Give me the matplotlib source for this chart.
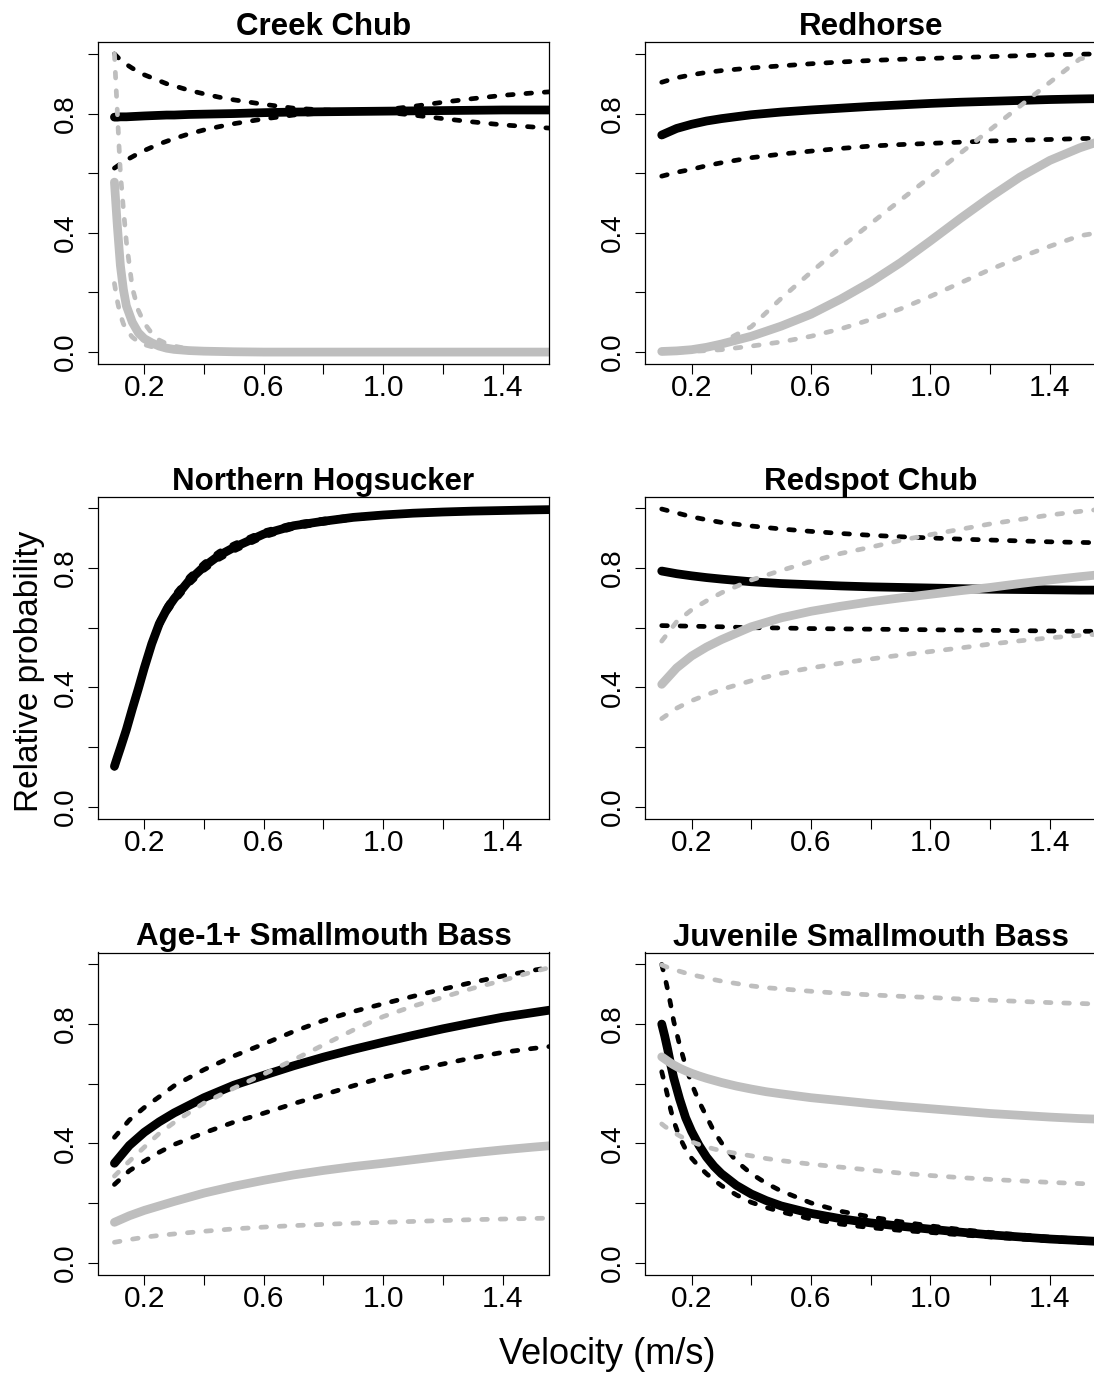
import matplotlib
matplotlib.use('Agg')
import matplotlib.pyplot as plt

plt.rcParams['font.family'] = ['Liberation Sans', 'DejaVu Sans']

# velocity grids (m/s); the steep panels use a finer start.
# the curves run a little past 1.5 and are clipped by the box, as in the original
vel_fine = [0.10, 0.11, 0.12, 0.13, 0.14, 0.16, 0.18, 0.20, 0.225, 0.25, 0.275, 0.30, 0.35,
            0.40, 0.45, 0.50, 0.60, 0.70, 0.80, 0.90, 1.00, 1.10, 1.20, 1.30, 1.40, 1.50, 1.56]
vel = [0.10, 0.15, 0.20, 0.25, 0.30, 0.40, 0.50, 0.60, 0.70, 0.80, 0.90,
       1.00, 1.10, 1.20, 1.30, 1.40, 1.50, 1.56]

# Creek Chub (vel_fine)
cc_mean = [0.788, 0.788, 0.789, 0.789, 0.789, 0.790, 0.791, 0.792, 0.793, 0.794, 0.795, 0.795, 0.797,
           0.798, 0.799, 0.800, 0.803, 0.805, 0.806, 0.807, 0.808, 0.809, 0.810, 0.811, 0.812, 0.812, 0.812]
cc_hi = [1.0, 0.99, 0.98, 0.972, 0.965, 0.952, 0.94, 0.93, 0.92, 0.91, 0.90, 0.893, 0.878,
         0.866, 0.855, 0.846, 0.831, 0.818, 0.812, 0.810, 0.812, 0.824, 0.838, 0.850, 0.861, 0.869, 0.873]
cc_lo = [0.617, 0.624, 0.631, 0.638, 0.644, 0.655, 0.666, 0.676, 0.687, 0.698, 0.707, 0.716, 0.732,
         0.745, 0.756, 0.766, 0.782, 0.795, 0.802, 0.806, 0.805, 0.795, 0.783, 0.772, 0.762, 0.755, 0.751]
cc_g_mean = [0.57, 0.42, 0.29, 0.21, 0.155, 0.10, 0.065, 0.045, 0.031, 0.02, 0.013, 0.009, 0.005,
             0.003, 0.002, 0.001, 0.0, 0.0, 0.0, 0.0, 0.0, 0.0, 0.0, 0.0, 0.0, 0.0, 0.0]
cc_g_hi = [1.0, 0.80, 0.60, 0.48, 0.37, 0.215, 0.14, 0.097, 0.063, 0.04, 0.028, 0.02, 0.01,
           0.006, 0.004, 0.002, 0.001, 0.0, 0.0, 0.0, 0.0, 0.0, 0.0, 0.0, 0.0, 0.0, 0.0]
cc_g_lo = [0.23, 0.17, 0.125, 0.095, 0.075, 0.05, 0.035, 0.025, 0.018, 0.013, 0.009, 0.007, 0.004,
           0.002, 0.001, 0.001, 0.0, 0.0, 0.0, 0.0, 0.0, 0.0, 0.0, 0.0, 0.0, 0.0, 0.0]

# Redhorse (vel)
rh_mean = [0.728, 0.75, 0.764, 0.775, 0.783, 0.796, 0.805, 0.812, 0.818, 0.824, 0.829,
           0.834, 0.838, 0.841, 0.844, 0.847, 0.849, 0.85]
rh_hi = [0.905, 0.92, 0.93, 0.938, 0.944, 0.953, 0.96, 0.967, 0.973, 0.978, 0.982,
         0.985, 0.988, 0.991, 0.994, 0.997, 0.999, 1.0]
rh_lo = [0.59, 0.603, 0.613, 0.625, 0.635, 0.652, 0.664, 0.674, 0.683, 0.691, 0.696,
         0.70, 0.704, 0.708, 0.711, 0.713, 0.716, 0.717]
rh_g_mean = [0.002, 0.004, 0.008, 0.016, 0.027, 0.053, 0.087, 0.127, 0.178, 0.235, 0.30,
             0.373, 0.448, 0.52, 0.587, 0.643, 0.685, 0.705]
rh_g_hi = [0.002, 0.004, 0.008, 0.016, 0.032, 0.085, 0.18, 0.268, 0.352, 0.431, 0.51,
           0.588, 0.667, 0.746, 0.825, 0.905, 0.983, 0.995]
rh_g_lo = [0.0, 0.001, 0.002, 0.005, 0.008, 0.02, 0.034, 0.053, 0.078, 0.109, 0.145,
           0.187, 0.232, 0.277, 0.318, 0.355, 0.39, 0.40]

# Northern Hogsucker (vel_fine)
hs_mean = [0.135, 0.166, 0.196, 0.227, 0.258, 0.328, 0.395, 0.465, 0.546, 0.613, 0.661, 0.697, 0.758,
           0.805, 0.842, 0.869, 0.914, 0.942, 0.957, 0.970, 0.978, 0.984, 0.988, 0.991, 0.993, 0.995, 0.996]
hs_hi = [0.141, 0.173, 0.203, 0.234, 0.265, 0.336, 0.404, 0.475, 0.557, 0.625, 0.674, 0.711, 0.772,
         0.818, 0.855, 0.881, 0.924, 0.95, 0.964, 0.975, 0.982, 0.987, 0.991, 0.993, 0.995, 0.996, 0.997]
hs_lo = [0.129, 0.159, 0.189, 0.22, 0.251, 0.32, 0.386, 0.455, 0.535, 0.601, 0.648, 0.683, 0.744,
         0.792, 0.829, 0.857, 0.904, 0.934, 0.95, 0.965, 0.974, 0.981, 0.985, 0.989, 0.991, 0.994, 0.995]

# Redspot Chub (vel)
rs_mean = [0.79, 0.781, 0.774, 0.768, 0.763, 0.754, 0.748, 0.744, 0.74, 0.737, 0.735,
           0.733, 0.731, 0.729, 0.728, 0.727, 0.726, 0.726]
rs_hi = [0.998, 0.985, 0.972, 0.962, 0.953, 0.941, 0.931, 0.923, 0.916, 0.91, 0.905,
         0.901, 0.897, 0.894, 0.891, 0.888, 0.886, 0.885]
rs_lo = [0.607, 0.606, 0.605, 0.604, 0.603, 0.60, 0.599, 0.597, 0.596, 0.595, 0.594,
         0.593, 0.592, 0.591, 0.59, 0.589, 0.588, 0.588]
rs_g_mean = [0.41, 0.465, 0.505, 0.535, 0.56, 0.603, 0.633, 0.655, 0.672, 0.687, 0.70,
             0.712, 0.724, 0.735, 0.748, 0.76, 0.771, 0.777]
rs_g_hi = [0.555, 0.62, 0.66, 0.69, 0.717, 0.76, 0.792, 0.822, 0.849, 0.87, 0.893,
           0.912, 0.93, 0.948, 0.963, 0.978, 0.99, 0.996]
rs_g_lo = [0.295, 0.33, 0.355, 0.375, 0.393, 0.422, 0.447, 0.465, 0.481, 0.495, 0.508,
           0.52, 0.532, 0.545, 0.556, 0.566, 0.574, 0.578]

# Age-1+ Smallmouth Bass (vel)
ag_mean = [0.333, 0.393, 0.437, 0.472, 0.502, 0.553, 0.595, 0.628, 0.66, 0.689, 0.715,
           0.739, 0.762, 0.784, 0.804, 0.823, 0.838, 0.847]
ag_hi = [0.42, 0.478, 0.52, 0.556, 0.593, 0.647, 0.693, 0.733, 0.775, 0.812, 0.842,
         0.868, 0.893, 0.917, 0.94, 0.961, 0.98, 0.99]
ag_lo = [0.262, 0.308, 0.34, 0.37, 0.396, 0.435, 0.471, 0.501, 0.533, 0.563, 0.593,
         0.621, 0.645, 0.666, 0.687, 0.705, 0.718, 0.725]
ag_g_mean = [0.135, 0.157, 0.175, 0.19, 0.205, 0.233, 0.256, 0.276, 0.294, 0.309, 0.322,
             0.333, 0.345, 0.357, 0.368, 0.378, 0.387, 0.392]
ag_g_hi = [0.29, 0.34, 0.387, 0.433, 0.47, 0.535, 0.585, 0.632, 0.68, 0.73, 0.78,
           0.825, 0.86, 0.89, 0.92, 0.946, 0.975, 0.99]
ag_g_lo = [0.068, 0.077, 0.085, 0.091, 0.096, 0.105, 0.113, 0.119, 0.124, 0.128, 0.132,
           0.135, 0.138, 0.141, 0.144, 0.146, 0.148, 0.149]

# Juvenile Smallmouth Bass (vel_fine)
js_mean = [0.80, 0.76, 0.715, 0.665, 0.62, 0.548, 0.486, 0.44, 0.393, 0.354, 0.323, 0.298, 0.259,
           0.23, 0.208, 0.19, 0.165, 0.147, 0.133, 0.122, 0.112, 0.102, 0.093, 0.086, 0.079, 0.074, 0.071]
js_hi = [1.0, 0.96, 0.915, 0.865, 0.81, 0.73, 0.66, 0.60, 0.54, 0.49, 0.44, 0.402, 0.34,
         0.298, 0.266, 0.24, 0.2, 0.172, 0.153, 0.137, 0.123, 0.111, 0.101, 0.093, 0.085, 0.079, 0.076]
js_lo = [0.64, 0.6, 0.558, 0.513, 0.475, 0.42, 0.38, 0.35, 0.322, 0.298, 0.277, 0.258, 0.227,
         0.202, 0.185, 0.17, 0.146, 0.129, 0.117, 0.108, 0.101, 0.093, 0.086, 0.079, 0.073, 0.068, 0.065]
js_g_mean = [0.69, 0.683, 0.676, 0.669, 0.663, 0.652, 0.643, 0.635, 0.626, 0.618, 0.611, 0.604, 0.592,
             0.582, 0.573, 0.566, 0.553, 0.543, 0.533, 0.524, 0.516, 0.508, 0.50, 0.494, 0.488, 0.483, 0.481]
js_g_hi = [0.998, 0.994, 0.99, 0.986, 0.983, 0.977, 0.971, 0.966, 0.96, 0.955, 0.949, 0.944, 0.936,
           0.928, 0.922, 0.918, 0.91, 0.903, 0.898, 0.893, 0.889, 0.884, 0.88, 0.876, 0.872, 0.869, 0.867]
js_g_lo = [0.465, 0.457, 0.45, 0.443, 0.437, 0.425, 0.414, 0.405, 0.396, 0.388, 0.381, 0.375, 0.366,
           0.358, 0.349, 0.342, 0.33, 0.32, 0.31, 0.30, 0.292, 0.285, 0.279, 0.274, 0.269, 0.265, 0.263]

GRAY = '#bebebe'
W, H = 1094, 1378
fig = plt.figure(figsize=(W / 100, H / 100), dpi=100)

# panel boxes in pixels: left edge of column, top edge of row
col_left = [97.7, 645.0]
row_top = [42.0, 496.5, 952.5]
box_w, box_h = 451.5, 322.0

panels = [
    ('Creek Chub', 0, 0, vel_fine, (cc_mean, cc_lo, cc_hi), (cc_g_mean, cc_g_lo, cc_g_hi)),
    ('Redhorse', 0, 1, vel, (rh_mean, rh_lo, rh_hi), (rh_g_mean, rh_g_lo, rh_g_hi)),
    ('Northern Hogsucker', 1, 0, vel_fine, (hs_mean, hs_lo, hs_hi), None),
    ('Redspot Chub', 1, 1, vel, (rs_mean, rs_lo, rs_hi), (rs_g_mean, rs_g_lo, rs_g_hi)),
    ('Age-1+ Smallmouth Bass', 2, 0, vel, (ag_mean, ag_lo, ag_hi), (ag_g_mean, ag_g_lo, ag_g_hi)),
    ('Juvenile Smallmouth Bass', 2, 1, vel_fine, (js_mean, js_lo, js_hi), (js_g_mean, js_g_lo, js_g_hi)),
]

dash = (0, (1.2, 2.7))

for title, r, c, x, black, gray in panels:
    ax = fig.add_axes([col_left[c] / W, 1 - (row_top[r] + box_h) / H, box_w / W, box_h / H])
    for color, curves in (('black', black), (GRAY, gray)):
        if curves is None:
            continue
        mean, lo, hi = curves
        ax.plot(x, mean, color=color, lw=6.3, solid_capstyle='round')
        ax.plot(x, lo, color=color, lw=3.4, linestyle=dash, dash_capstyle='round')
        ax.plot(x, hi, color=color, lw=3.4, linestyle=dash, dash_capstyle='round')

    ax.set_xlim(0.044, 1.556)
    ax.set_ylim(-0.04, 1.04)
    ax.set_xticks([0.2, 0.6, 1.0, 1.4])
    ax.set_xticklabels(['0.2', '0.6', '1.0', '1.4'])
    ax.set_xticks([0.4, 0.8, 1.2], minor=True)
    ax.set_yticks([0.0, 0.4, 0.8])
    ax.set_yticklabels(['0.0', '0.4', '0.8'])
    ax.set_yticks([0.2, 0.6, 1.0], minor=True)
    ax.tick_params(which='both', direction='out', length=7.5, width=0.8)
    ax.tick_params(axis='x', which='both', pad=0, labelsize=21.5)
    ax.tick_params(axis='y', which='both', pad=6, labelrotation=90, labelsize=20)
    for lbl in ax.get_yticklabels():
        lbl.set_va('center')
    for sp in ax.spines.values():
        sp.set_linewidth(0.9)
    ax.set_title(title, fontsize=22.5, fontweight='bold', pad=5)

fig.text(30 / W, 1 - 671 / H, 'Relative probability', rotation=90,
         ha='center', va='center', fontsize=24)
fig.text(607 / W, 1 - 1355 / H, 'Velocity (m/s)', ha='center', va='center', fontsize=26)

fig.savefig('out.png', dpi=100, facecolor='white')
